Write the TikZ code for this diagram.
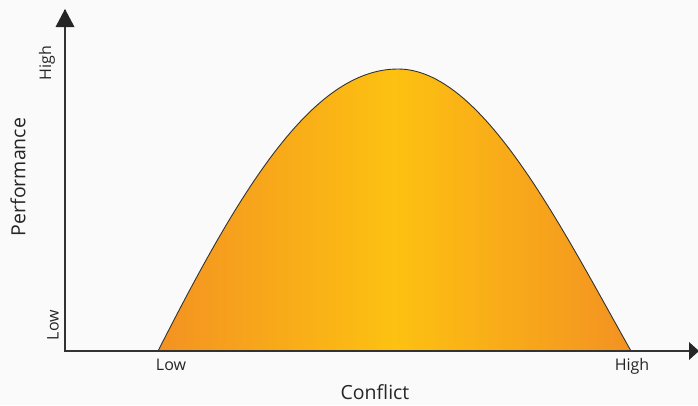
\documentclass[tikz,border=0pt]{standalone}
\usepackage{fontspec}
\setmainfont{Open Sans}
\begin{document}
\begin{tikzpicture}[x=1pt,y=-1pt,
  axis/.style={draw=black!80,line width=1.8pt},
  lab/.style={font=\fontsize{16}{18}\selectfont,text=black!85,inner sep=0pt},
  title/.style={font=\fontsize{19.5}{22}\selectfont,text=black!85,inner sep=0pt}]
\definecolor{orA}{HTML}{F39222}
\definecolor{orB}{HTML}{FDC111}
\definecolor{bg}{HTML}{FAFAFA}
\fill[bg] (0,0) rectangle (698,405);
\useasboundingbox (0,0) rectangle (698,405);
\coordinate (O) at (65,351);
\coordinate (Ytop) at (65,10);
\coordinate (Xend) at (698,351);
\coordinate (S) at (158,351);
\coordinate (P) at (398,69);
\coordinate (E) at (631,351);
\shade[left color=orA,right color=orA,middle color=orB,draw=black!80,line width=0.9pt]
  (S) .. controls (240,190) and (312,69) .. (P) .. controls (482,69) and (560,225) .. (E) -- cycle;
\draw[axis] (Ytop) -- (O) -- (Xend);
\fill[black!85] (65,9) -- (74.5,27) -- (55.5,27) -- cycle;
\fill[black!85] (699,351) -- (689,342) -- (689,360) -- cycle;
\node[lab,rotate=90] (yh) at (47,63) {High};
\node[lab,rotate=90] (yl) at (53,325) {Low};
\node[title,rotate=90] (yt) at (18,177) {Performance};
\node[lab] (xl) at (171,365) {Low};
\node[lab] (xh) at (632,366) {High};
\node[title] (xt) at (375,392) {Conflict};
\end{tikzpicture}
\end{document}
